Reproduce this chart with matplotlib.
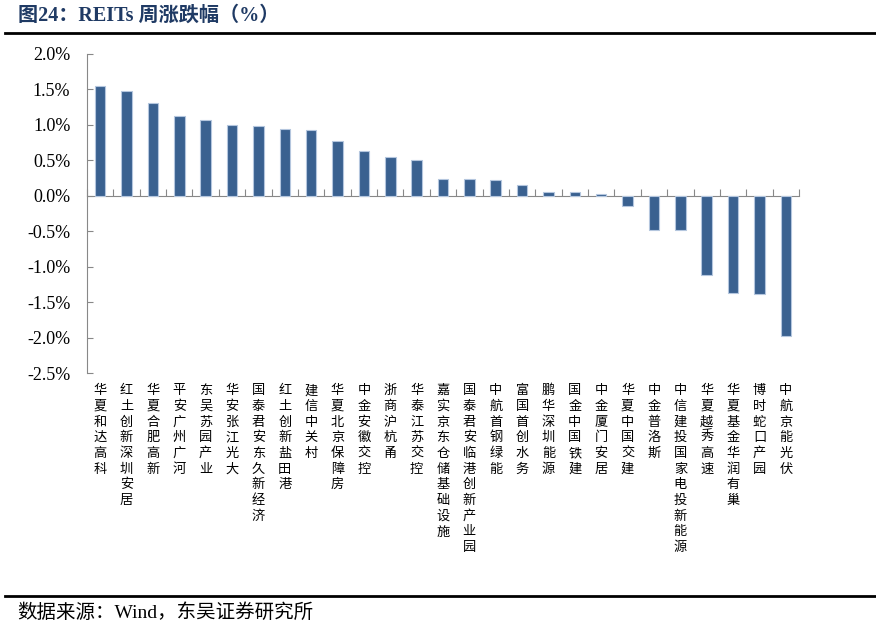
import matplotlib.pyplot as plt
import matplotlib.transforms as mtransforms
from matplotlib.lines import Line2D

# ==========================
# Data
# ==========================
names = [
    "华夏和达高科", "红土创新深圳安居", "华夏合肥高新", "平安广州广河",
    "东吴苏园产业", "华安张江光大", "国泰君安东久新经济", "红土创新盐田港",
    "建信中关村", "华夏北京保障房", "中金安徽交控", "浙商沪杭甬",
    "华泰江苏交控", "嘉实京东仓储基础设施", "国泰君安临港创新产业园",
    "中航首钢绿能", "富国首创水务", "鹏华深圳能源", "国金中国铁建",
    "中金厦门安居", "华夏中国交建", "中金普洛斯", "中信建投国家电投新能源",
    "华夏越秀高速", "华夏基金华润有巢", "博时蛇口产园", "中航京能光伏",
]
changes = [
    1.55, 1.48, 1.31, 1.13, 1.07, 1.00, 0.99, 0.94, 0.93, 0.77,
    0.63, 0.54, 0.50, 0.23, 0.23, 0.22, 0.15, 0.06, 0.05, 0.02,
    -0.15, -0.48, -0.48, -1.12, -1.37, -1.39, -1.98,
]
yticks = [2.0, 1.5, 1.0, 0.5, 0.0, -0.5, -1.0, -1.5, -2.0, -2.5]
title = "图24：REITs 周涨跌幅（%）"
source = "数据来源：Wind，东吴证券研究所"

serif = ["Liberation Serif", "Noto Sans CJK SC", "DejaVu Sans"]
cjk = ["Noto Sans CJK SC", "DejaVu Sans"]

fig = plt.figure(figsize=(8.76, 6.29), dpi=100)
ax = fig.add_axes([87 / 876, 1 - 373 / 629, 712 / 876, 319 / 629])

x = list(range(len(changes)))
ax.bar(x, changes, width=0.4, color="#3A6190", edgecolor="#B4C6DE",
       linewidth=0.8, zorder=3)

# --------------------------
# Axes
# --------------------------
ax.set_xlim(-0.5, len(changes) - 0.5)
ax.set_ylim(-2.5, 2.0)
ax.spines["top"].set_visible(False)
ax.spines["right"].set_visible(False)
ax.spines["left"].set_color("#888888")
ax.spines["bottom"].set_color("#888888")
ax.spines["bottom"].set_position(("data", 0))

ax.set_xticks([i - 0.5 for i in range(len(changes) + 1)])
ax.set_xticklabels([])
ax.tick_params(axis="x", direction="in", length=5, color="#888888")

ax.set_yticks(yticks)
ax.set_yticklabels([f"{v:.1f}%" for v in yticks], family=serif, fontsize=13)
ax.tick_params(axis="y", direction="in", length=4, color="#888888", pad=12)

# --------------------------
# Vertical category labels
# --------------------------
trans = mtransforms.blended_transform_factory(ax.transData, ax.transAxes)
for i, name in enumerate(names):
    ax.text(i, -0.035, "\n".join(name), transform=trans, ha="center",
            va="top", family=cjk, fontsize=9.5, linespacing=1.27)

# --------------------------
# Title / source
# --------------------------
fig.text(18 / 876, 1 - 16 / 629, title, family=serif, fontsize=14.5,
         fontweight="bold", color="#1F3A64", va="center", ha="left")
fig.add_artist(Line2D([5 / 876, 1], [1 - 33 / 629] * 2,
                      transform=fig.transFigure, color="black", lw=2))
fig.add_artist(Line2D([5 / 876, 1], [1 - 596 / 629] * 2,
                      transform=fig.transFigure, color="black", lw=2))
fig.text(17 / 876, 1 - 613 / 629, source, family=serif, fontsize=14,
         va="center", ha="left")

fig.savefig("out.png", dpi=100)
